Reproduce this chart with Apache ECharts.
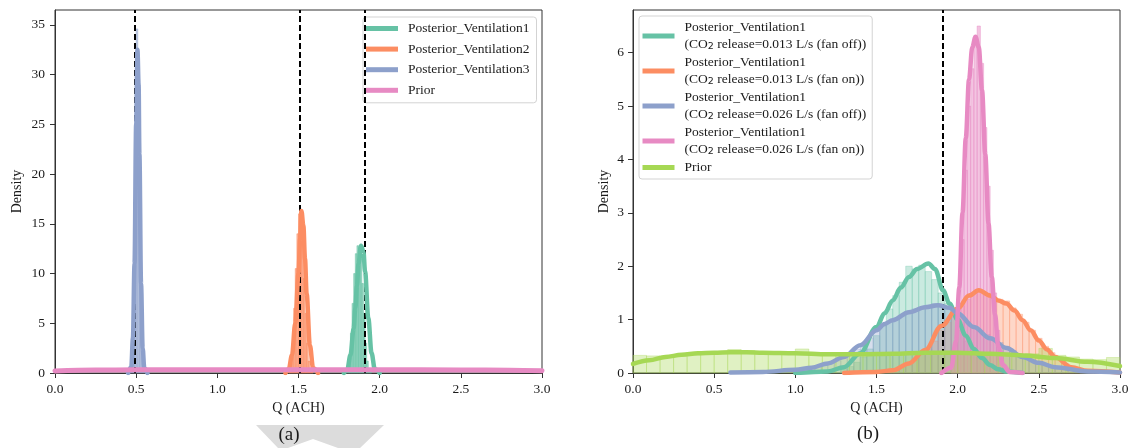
<!DOCTYPE html>
<html>
<head>
<meta charset="utf-8">
<script src="https://cdn.jsdelivr.net/npm/echarts@6/dist/echarts.min.js"></script>
<style>
  html, body { margin: 0; padding: 0; background: #fff; }
  #chart { width: 1133px; height: 448px; }
</style>
</head>
<body>
<div id="chart"></div>
<script>
// ---- axes -----------------------------------------------------------
const qTicks = [0, 0.5, 1, 1.5, 2, 2.5, 3];
const densityTicksA = [0, 5, 10, 15, 20, 25, 30, 35];
const densityTicksB = [0, 1, 2, 3, 4, 5, 6];

// true ventilation rates (dashed reference lines)
const refQA = [0.49, 1.51, 1.91];
const refQB = [1.91];

// ---- series names -----------------------------------------------------
const namesA = ['Posterior_Ventilation1', 'Posterior_Ventilation2', 'Posterior_Ventilation3', 'Prior'];
const namesB = [
  'Posterior_Ventilation1\n(CO₂ release=0.013 L/s (fan off))',
  'Posterior_Ventilation1\n(CO₂ release=0.013 L/s (fan on))',
  'Posterior_Ventilation1\n(CO₂ release=0.026 L/s (fan off))',
  'Posterior_Ventilation1\n(CO₂ release=0.026 L/s (fan on))',
  'Prior'
];

// ---- panel (a): KDE curves [Q, density] ---------------------------------
const kdeA_V1 = [[1.78,0],[1.80,0.3],[1.82,1.8],[1.84,4.5],[1.85,6.5],[1.86,8.8],[1.87,11],[1.885,12.8],[1.90,12.2],[1.91,10.2],[1.93,5.5],[1.95,2],[1.97,0.4],[2.0,0]];
const kdeA_V2 = [[1.42,0],[1.44,0.4],[1.46,1.8],[1.48,5],[1.50,10],[1.51,13.5],[1.518,16.3],[1.53,14.8],[1.54,11.5],[1.55,8],[1.57,2.8],[1.59,0.5],[1.62,0]];
const kdeA_V3 = [[0.45,0],[0.47,0.6],[0.48,3.5],[0.49,11],[0.50,25],[0.508,32.5],[0.515,29],[0.52,22],[0.53,9],[0.54,2.5],[0.55,0.5],[0.57,0]];
const kdeA_Prior = [[0,0.2],[0.25,0.29],[0.5,0.32],[1.0,0.33],[1.5,0.33],[2.0,0.33],[2.5,0.31],[2.8,0.27],[3.0,0.22]];

// ---- panel (a): histograms (first bin edge, bin width, heights) ---------
const histA_V1_from = 1.80, histA_V1_bin = 0.01;
const histA_V1 = [0.4, 1.5, 4, 7, 10, 12, 12.8, 12.6, 11.5, 9, 6, 3, 1.2, 0.4, 0.1];
const histA_V2_from = 1.44, histA_V2_bin = 0.01;
const histA_V2 = [0.3, 1, 3, 6.5, 10.5, 14, 16, 15.5, 13, 9.5, 6, 3, 1.2, 0.5, 0.1];
const histA_V3_from = 0.46, histA_V3_bin = 0.01;
const histA_V3 = [0.6, 3, 10, 21, 34.6, 28, 17, 7, 2, 0.4];

// ---- panel (b): KDE curves [Q, density] ---------------------------------
const kdeB_1 = [[1.0,0],[1.2,0.03],[1.3,0.11],[1.4,0.37],[1.5,0.86],[1.55,1.12],[1.6,1.36],[1.65,1.6],[1.7,1.8],[1.75,1.95],[1.82,2.05],[1.86,1.95],[1.91,1.55],[1.95,1.3],[2.0,1.0],[2.05,0.7],[2.1,0.45],[2.15,0.28],[2.2,0.15],[2.25,0.07],[2.3,0.03],[2.4,0]];
const kdeB_2 = [[1.3,0],[1.5,0.02],[1.6,0.05],[1.7,0.18],[1.8,0.43],[1.9,0.88],[2.0,1.21],[2.07,1.45],[2.13,1.55],[2.2,1.45],[2.25,1.36],[2.3,1.3],[2.35,1.17],[2.4,0.99],[2.45,0.8],[2.5,0.61],[2.55,0.44],[2.6,0.3],[2.7,0.11],[2.8,0.04],[3.0,0.01]];
const kdeB_3 = [[0.6,0.01],[0.8,0.02],[1.0,0.06],[1.1,0.1],[1.2,0.18],[1.3,0.3],[1.4,0.52],[1.5,0.8],[1.55,0.92],[1.6,0.99],[1.7,1.14],[1.8,1.23],[1.88,1.27],[1.95,1.22],[2.0,1.12],[2.1,0.86],[2.2,0.65],[2.3,0.47],[2.4,0.3],[2.5,0.19],[2.6,0.11],[2.8,0.03],[3.0,0.01]];
const kdeB_4 = [[1.9,0],[1.96,0.1],[1.99,0.6],[2.01,1.6],[2.03,3.0],[2.05,4.4],[2.07,5.5],[2.09,6.1],[2.11,6.3],[2.13,6.1],[2.15,5.3],[2.17,4.1],[2.19,2.8],[2.21,1.8],[2.23,1.1],[2.25,0.5],[2.28,0.15],[2.32,0.02],[2.4,0]];
const kdeB_Prior = [[0,0.17],[0.1,0.24],[0.2,0.3],[0.3,0.34],[0.4,0.37],[0.5,0.38],[0.6,0.39],[0.7,0.39],[0.8,0.38],[1.0,0.37],[1.2,0.35],[1.4,0.35],[1.6,0.36],[1.8,0.38],[2.0,0.38],[2.2,0.36],[2.4,0.33],[2.6,0.28],[2.8,0.21],[3.0,0.13]];

// ---- panel (b): histograms --------------------------------------------
const histB_Prior_from = 0, histB_Prior_bin = 1 / 12;
const histB_Prior = [0.33,0.32,0.30,0.31,0.34,0.36,0.40,0.44,0.42,0.37,0.35,0.38,0.45,0.36,0.33,0.35,0.37,0.34,0.36,0.38,0.35,0.37,0.40,0.38,0.36,0.39,0.35,0.37,0.34,0.36,0.46,0.33,0.30,0.26,0.25,0.29];
const histB_1_from = 1.28, histB_1_bin = 0.04;
const histB_1 = [0.08,0.12,0.2,0.3,0.45,0.7,0.9,1.2,1.45,1.7,2.0,1.95,2.02,1.9,1.75,1.5,1.3,1.05,0.8,0.6,0.45,0.3,0.2,0.12,0.08,0.04];
const histB_2_from = 1.56, histB_2_bin = 0.04;
const histB_2 = [0.04,0.06,0.1,0.15,0.24,0.35,0.45,0.6,0.8,0.95,1.1,1.25,1.38,1.5,1.52,1.48,1.42,1.38,1.35,1.22,1.1,0.95,0.8,0.65,0.5,0.38,0.26,0.18,0.12,0.08,0.05,0.03];
const histB_3_from = 1.0, histB_3_bin = 0.04;
const histB_3 = [0.06,0.07,0.09,0.12,0.15,0.19,0.23,0.3,0.36,0.45,0.55,0.66,0.78,0.88,0.95,1.0,1.06,1.12,1.2,1.22,1.27,1.3,1.28,1.22,1.15,1.05,0.95,0.88,0.8,0.72,0.64,0.57,0.5,0.42,0.36,0.3,0.25,0.2,0.17,0.13,0.1,0.08,0.06,0.05,0.04,0.03];
const histB_4_from = 1.96, histB_4_bin = 0.02;
const histB_4 = [0.2,0.6,1.3,2.5,3.8,5.0,5.7,6.3,6.5,5.8,4.6,3.5,2.3,1.5,0.8,0.4,0.15];

// ---- styling ----------------------------------------------------------
const SERIF = 'Liberation Serif';
const INK = '#1a1a1a';
const colorsA = ['#66c2a5', '#fc8d62', '#8da0cb', '#e78ac3'];
const colorsB = ['#66c2a5', '#fc8d62', '#8da0cb', '#e78ac3', '#a6d854'];

function hexA(hex, a) {
  const n = parseInt(hex.slice(1), 16);
  return `rgba(${(n >> 16) & 255},${(n >> 8) & 255},${n & 255},${a})`;
}

// histogram drawn as rectangles through the axis scales
function histSeries(axis, from, bin, heights, color, fillA, z) {
  const data = heights.map((h, i) => [from + i * bin, from + (i + 1) * bin, h]);
  return {
    type: 'custom', xAxisIndex: axis, yAxisIndex: axis, silent: true, z: z,
    encode: { x: [0, 1], y: 2 },
    data: data,
    renderItem(params, api) {
      const p0 = api.coord([api.value(0), api.value(2)]);
      const p1 = api.coord([api.value(1), 0]);
      const cs = params.coordSys;
      const shape = echarts.graphic.clipRectByRect(
        { x: p0[0], y: p0[1], width: p1[0] - p0[0], height: p1[1] - p0[1] },
        { x: cs.x, y: cs.y, width: cs.width, height: cs.height });
      if (!shape) return null;
      return {
        type: 'rect', shape: shape,
        style: { fill: hexA(color, fillA), stroke: hexA(color, Math.min(1, fillA + 0.2)), lineWidth: 0.6 }
      };
    }
  };
}

function kdeSeries(axis, name, data, color, width, z) {
  return {
    type: 'line', name: name, xAxisIndex: axis, yAxisIndex: axis,
    data: data, showSymbol: false, symbol: 'none',
    smooth: 0.35, smoothMonotone: 'x', clip: true, silent: true, z: z,
    lineStyle: { color: color, width: width, cap: 'round', join: 'round' },
    itemStyle: { color: color }
  };
}

function refSeries(axis, values) {
  return {
    type: 'line', xAxisIndex: axis, yAxisIndex: axis, data: [], silent: true, z: 20,
    markLine: {
      silent: true, symbol: ['none', 'none'], animation: false,
      label: { show: false },
      lineStyle: { color: '#000', width: 2, type: [6, 3] },
      data: values.map(v => ({ xAxis: v }))
    }
  };
}

const tickLabel = { fontFamily: SERIF, fontSize: 13.5, color: INK };
const axisLine = { show: true, lineStyle: { color: '#333', width: 1 } };
const axisTick = { show: true, inside: false, length: 5, lineStyle: { color: '#333', width: 1 } };

function xAxisFor(i) {
  return {
    gridIndex: i, type: 'value', min: 0, max: 3, interval: 0.5,
    name: 'Q (ACH)', nameLocation: 'middle', nameGap: 27,
    nameTextStyle: { fontFamily: SERIF, fontSize: 14, color: INK },
    axisLine: axisLine, axisTick: axisTick,
    axisLabel: Object.assign({ margin: 9, formatter: v => v.toFixed(1) }, tickLabel),
    splitLine: { show: false }
  };
}

function yAxisFor(i, max, interval, ticks, nameGap, margin) {
  return {
    gridIndex: i, type: 'value', min: 0, max: max, interval: interval,
    name: 'Density', nameLocation: 'middle', nameGap: nameGap, nameRotate: 90,
    nameTextStyle: { fontFamily: SERIF, fontSize: 14, color: INK },
    axisLine: axisLine,
    axisTick: Object.assign({ customValues: ticks }, axisTick),
    axisLabel: Object.assign({ margin: margin, customValues: ticks, formatter: v => String(v) }, tickLabel),
    splitLine: { show: false }
  };
}

const legendBase = {
  orient: 'vertical', icon: 'rect', itemWidth: 32, itemHeight: 5,
  selectedMode: false,
  backgroundColor: 'rgba(255,255,255,0.85)', borderColor: '#d3d3d3', borderWidth: 1, borderRadius: 3,
  textStyle: {
    fontFamily: SERIF, fontSize: 13.5, color: INK, lineHeight: 17, padding: [0, 0, 0, 5],
    rich: { sub: { fontFamily: 'DejaVu Sans', fontSize: 9.5, lineHeight: 17, padding: [5, 0, 0, 0], color: INK } }
  },
  formatter: n => n.replace('CO₂', 'CO{sub|2}')
};

const series = [
  // panel (a)
  histSeries(0, histA_V1_from, histA_V1_bin, histA_V1, colorsA[0], 0.65, 2),
  histSeries(0, histA_V2_from, histA_V2_bin, histA_V2, colorsA[1], 0.65, 2),
  histSeries(0, histA_V3_from, histA_V3_bin, histA_V3, colorsA[2], 0.55, 2),
  kdeSeries(0, namesA[0], kdeA_V1, colorsA[0], 4.5, 5),
  kdeSeries(0, namesA[1], kdeA_V2, colorsA[1], 4.5, 5),
  kdeSeries(0, namesA[2], kdeA_V3, colorsA[2], 4.5, 5),
  kdeSeries(0, namesA[3], kdeA_Prior, colorsA[3], 5, 6),
  refSeries(0, refQA),
  // panel (b)
  histSeries(1, histB_1_from, histB_1_bin, histB_1, colorsB[0], 0.35, 2),
  histSeries(1, histB_2_from, histB_2_bin, histB_2, colorsB[1], 0.35, 2),
  histSeries(1, histB_3_from, histB_3_bin, histB_3, colorsB[2], 0.35, 2),
  histSeries(1, histB_4_from, histB_4_bin, histB_4, colorsB[3], 0.5, 2),
  histSeries(1, histB_Prior_from, histB_Prior_bin, histB_Prior, colorsB[4], 0.35, 2),
  kdeSeries(1, namesB[0], kdeB_1, colorsB[0], 4.5, 5),
  kdeSeries(1, namesB[1], kdeB_2, colorsB[1], 4.5, 5),
  kdeSeries(1, namesB[2], kdeB_3, colorsB[2], 4.5, 5),
  kdeSeries(1, namesB[3], kdeB_4, colorsB[3], 4.5, 5),
  kdeSeries(1, namesB[4], kdeB_Prior, colorsB[4], 4.5, 6),
  refSeries(1, refQB)
];

const chart = echarts.init(document.getElementById('chart'), null, { renderer: 'canvas' });
chart.setOption({
  animation: false,
  backgroundColor: '#fff',
  grid: [
    { left: 55, top: 10, width: 487, height: 363, show: true, borderColor: '#333', borderWidth: 1 },
    { left: 633, top: 10, width: 487, height: 363, show: true, borderColor: '#333', borderWidth: 1 }
  ],
  xAxis: [xAxisFor(0), xAxisFor(1)],
  yAxis: [
    yAxisFor(0, 36.5, 5, densityTicksA, 31, 10),
    yAxisFor(1, 6.8, 1, densityTicksB, 22, 9)
  ],
  legend: [
    Object.assign({}, legendBase, {
      left: 363, top: 17, itemGap: 3.6, padding: [3, 7, 4, 3],
      data: namesA.map((n, i) => ({ name: n, itemStyle: { color: colorsA[i] } }))
    }),
    Object.assign({}, legendBase, {
      left: 639, top: 16, itemGap: 1, padding: [3, 6, 3, 3.5],
      data: namesB.map((n, i) => ({ name: n, itemStyle: { color: colorsB[i] } }))
    })
  ],
  graphic: [
    {
      type: 'polygon', z: 0, silent: true,
      shape: { points: [[256, 425], [384, 425], [360, 448], [338, 448], [313, 439], [288, 448], [278, 448]] },
      style: { fill: '#dcdcdc' }
    },
    {
      type: 'text', x: 289, y: 435, z: 5, silent: true,
      style: { text: '(a)', font: '19px "Liberation Serif"', fill: INK, align: 'center', verticalAlign: 'middle' }
    },
    {
      type: 'text', x: 868, y: 434, z: 5, silent: true,
      style: { text: '(b)', font: '19px "Liberation Serif"', fill: INK, align: 'center', verticalAlign: 'middle' }
    }
  ],
  series: series
});
</script>
</body>
</html>
